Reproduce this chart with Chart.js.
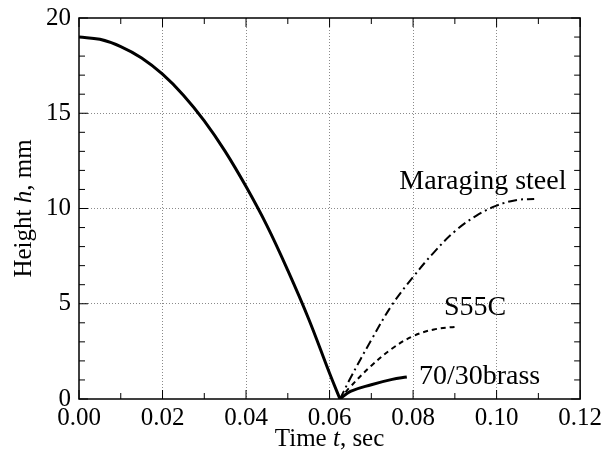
<!DOCTYPE html>
<html>
<head>
<meta charset="utf-8">
<script src="https://cdn.jsdelivr.net/npm/chart.js@4.4.1/dist/chart.umd.min.js"></script>
<style>
  html, body { margin: 0; padding: 0; background: #fff; }
  #wrap { width: 606px; height: 455px; }
</style>
</head>
<body>
<div id="wrap"><canvas id="height_chart"></canvas></div>
<script>
// free fall of the ball
var fallTime = [0, 0.005, 0.01, 0.015, 0.02, 0.025, 0.03, 0.035, 0.04, 0.045, 0.05, 0.055, 0.06, 0.0625];
var fallHeight = [19, 18.88, 18.5, 17.9, 17.05, 15.95, 14.6, 13.0, 11.15, 9.1, 6.75, 4.2, 1.35, 0];

// rebounds
var maragingTime = [0.0625, 0.065, 0.07, 0.075, 0.08, 0.085, 0.09, 0.095, 0.1, 0.105, 0.109];
var maragingHeight = [0, 1.1, 3.1, 4.95, 6.4, 7.7, 8.8, 9.6, 10.15, 10.45, 10.5];
var s55cTime = [0.0625, 0.065, 0.07, 0.075, 0.08, 0.085, 0.0905];
var s55cHeight = [0, 0.65, 1.75, 2.65, 3.3, 3.65, 3.8];
var brassTime = [0.0625, 0.065, 0.07, 0.075, 0.0785];
var brassHeight = [0, 0.4, 0.75, 1.03, 1.15];

var xTicks = [0, 0.02, 0.04, 0.06, 0.08, 0.1, 0.12];
var yTicks = [0, 5, 10, 15, 20];

var FONT = "'Liberation Serif', 'Times New Roman', serif";

function toPoints(xs, ys) {
    return xs.map(function (x, i) { return { x: x, y: ys[i] }; });
}

function drawMixed(ctx, parts, x, y) {
    // parts: [text, italic]
    var total = 0;
    parts.forEach(function (p) {
        ctx.font = (p[1] ? 'italic ' : '') + '25px ' + FONT;
        total += ctx.measureText(p[0]).width;
    });
    var cx = x - total / 2;
    parts.forEach(function (p) {
        ctx.font = (p[1] ? 'italic ' : '') + '25px ' + FONT;
        ctx.fillText(p[0], cx, y);
        cx += ctx.measureText(p[0]).width;
    });
}

var framePlugin = {
    id: 'frame',
    afterDraw: function (chart) {
        var ctx = chart.ctx, a = chart.chartArea;
        var xs = chart.scales.x, ys = chart.scales.y;
        ctx.save();
        ctx.strokeStyle = '#000';
        ctx.lineWidth = 1.5;
        ctx.strokeRect(a.left, a.top, a.right - a.left, a.bottom - a.top);

        // inward ticks
        ctx.lineWidth = 1;
        ctx.beginPath();
        for (var i = 0; i <= 12; i++) {
            var px = xs.getPixelForValue(i * 0.01);
            var len = i % 2 === 0 ? 9 : 6;
            ctx.moveTo(px, a.bottom); ctx.lineTo(px, a.bottom - len);
            ctx.moveTo(px, a.top); ctx.lineTo(px, a.top + len);
        }
        for (var j = 0; j <= 20; j++) {
            var py = ys.getPixelForValue(j);
            var l2 = j % 5 === 0 ? 9 : 6;
            ctx.moveTo(a.left, py); ctx.lineTo(a.left + l2, py);
            ctx.moveTo(a.right, py); ctx.lineTo(a.right - l2, py);
        }
        ctx.stroke();

        // axis titles
        ctx.fillStyle = '#000';
        ctx.textBaseline = 'alphabetic';
        ctx.textAlign = 'left';
        drawMixed(ctx, [['Time ', false], ['t', true], [', sec', false]], (a.left + a.right) / 2, 446);
        ctx.save();
        ctx.translate(31, (a.top + a.bottom) / 2);
        ctx.rotate(-Math.PI / 2);
        drawMixed(ctx, [['Height ', false], ['h', true], [', mm', false]], 0, 0);
        ctx.restore();

        // curve labels
        ctx.font = '28px ' + FONT;
        ctx.textAlign = 'left';
        ctx.fillText('Maraging steel', xs.getPixelForValue(0.0767), ys.getPixelForValue(11.0));
        ctx.fillText('S55C', xs.getPixelForValue(0.0874), ys.getPixelForValue(4.4));
        ctx.fillText('70/30brass', xs.getPixelForValue(0.0814), ys.getPixelForValue(0.78));
        ctx.restore();
    }
};

function lineSet(label, xs, ys, width, dash) {
    return {
        label: label,
        data: toPoints(xs, ys),
        borderColor: '#000',
        borderWidth: width,
        borderDash: dash,
        pointRadius: 0,
        fill: false,
        tension: 0.4,
        showLine: true
    };
}

new Chart(document.getElementById('height_chart').getContext('2d'), {
    type: 'scatter',
    data: {
        datasets: [
            lineSet('Fall', fallTime, fallHeight, 3, []),
            lineSet('Maraging steel', maragingTime, maragingHeight, 2, [9, 4, 2, 4]),
            lineSet('S55C', s55cTime, s55cHeight, 2, [5, 4]),
            lineSet('70/30brass', brassTime, brassHeight, 3, [])
        ]
    },
    plugins: [framePlugin],
    options: {
        responsive: true,
        maintainAspectRatio: false,
        animation: false,
        layout: { padding: { left: 38, top: 1, right: 0, bottom: 18 } },
        plugins: { legend: { display: false }, tooltip: { enabled: false } },
        scales: {
            x: {
                type: 'linear',
                min: 0, max: 0.12,
                afterBuildTicks: function (s) { s.ticks = xTicks.map(function (v) { return { value: v }; }); },
                ticks: {
                    color: '#000',
                    font: { family: FONT, size: 25 },
                    padding: 4,
                    maxRotation: 0,
                    callback: function (v) { return v.toFixed(2); }
                },
                grid: {
                    drawTicks: false,
                    color: function (c) { return (c.index === 0 || c.index === xTicks.length - 1) ? 'rgba(0,0,0,0)' : '#8a8a8a'; },
                    lineWidth: 1
                },
                border: { display: false, dash: [1, 2] }
            },
            y: {
                type: 'linear',
                min: 0, max: 20,
                afterBuildTicks: function (s) { s.ticks = yTicks.map(function (v) { return { value: v }; }); },
                ticks: {
                    color: '#000',
                    font: { family: FONT, size: 25, lineHeight: 0.8 },
                    padding: 8
                },
                grid: {
                    drawTicks: false,
                    color: function (c) { return (c.index === 0 || c.index === yTicks.length - 1) ? 'rgba(0,0,0,0)' : '#8a8a8a'; },
                    lineWidth: 1
                },
                border: { display: false, dash: [1, 2] }
            }
        }
    }
});
</script>
</body>
</html>
